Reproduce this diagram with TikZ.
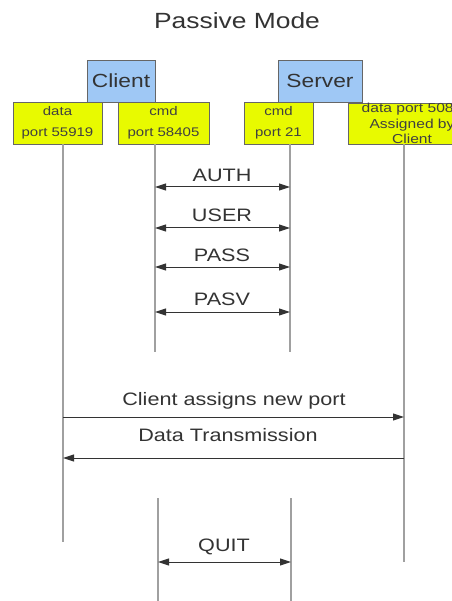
\documentclass[tikz,border=0pt]{standalone}
\usepackage{fontspec}
\setmainfont{Liberation Sans}[FakeStretch=1.2]
\usetikzlibrary{arrows.meta}
\definecolor{boxblue}{HTML}{9FC8F5}
\definecolor{boxyellow}{HTML}{E8FA00}
\definecolor{lifegray}{HTML}{A0A0A0}
\definecolor{inkgray}{HTML}{333333}
\begin{document}
\begin{tikzpicture}[x=1pt,y=-1pt,
  hostbox/.style={draw=black!60,fill=boxblue,line width=0.8pt,inner sep=0pt,
    minimum height=42pt,text=inkgray,font=\fontsize{19}{21}\selectfont},
  portbox/.style={draw=black!60,fill=boxyellow,line width=0.8pt,inner sep=0pt,
    minimum height=42pt,align=center,text=black!75,font=\fontsize{12.5}{21}\selectfont},
  lifeline/.style={draw=lifegray,line width=1.3pt},
  msg/.style={draw=inkgray,line width=1pt,-{Triangle[length=11pt,width=7pt]}},
  dmsg/.style={draw=inkgray,line width=1pt,{Triangle[length=11pt,width=7pt]}-{Triangle[length=11pt,width=7pt]}},
  msglabel/.style={text=inkgray,inner sep=0pt,font=\fontsize{18}{20}\selectfont}]
\useasboundingbox (0,0) rectangle (451,601);

% title
\node[text=inkgray,font=\fontsize{22}{24}\selectfont] (title) at (237,21) {Passive Mode};

% hosts
\node[hostbox,minimum width=68pt] (client) at (121,81) {Client};
\node[hostbox,minimum width=84pt] (server) at (320,81) {Server};

% ports
\node[portbox,minimum width=89pt] (dcli) at (57.5,123) {data\\port 55919};
\node[portbox,minimum width=91pt] (ccli) at (163.5,123) {cmd\\port 58405};
\node[portbox,minimum width=69pt] (csrv) at (278.5,123) {cmd\\port 21};
\node[portbox,minimum width=128pt,minimum height=41pt,font=\fontsize{13}{15.5}\selectfont]
  (dsrv) at (412,123.5) {data port 5082\\Assigned by\\Client};

% lifeline ends
\coordinate (dcliEnd) at (63,542);
\coordinate (ccliEnd) at (155,352);
\coordinate (csrvEnd) at (290,352);
\coordinate (dsrvEnd) at (404,562);
\coordinate (qcliTop) at (158,498);
\coordinate (qcliEnd) at (158,601);
\coordinate (qsrvTop) at (291,498);
\coordinate (qsrvEnd) at (291,601);

\draw[lifeline] (dcli.south -| dcliEnd) -- (dcliEnd);
\draw[lifeline] (ccli.south -| ccliEnd) -- (ccliEnd);
\draw[lifeline] (csrv.south -| csrvEnd) -- (csrvEnd);
\draw[lifeline] (dsrv.south -| dsrvEnd) -- (dsrvEnd);
\draw[lifeline] (qcliTop) -- (qcliEnd);
\draw[lifeline] (qsrvTop) -- (qsrvEnd);

% command channel exchanges
\foreach \lab/\ya/\yl in {AUTH/187/175, USER/228/215, PASS/267/255, PASV/312/299}{
  \coordinate (a\lab) at (155,\ya);
  \coordinate (b\lab) at (290,\ya);
  \draw[dmsg] (a\lab) -- (b\lab);
  \node[msglabel] (l\lab) at (222,\yl) {\lab};
}

% data channel
\coordinate (assignA) at (63,417);
\coordinate (assignB) at (404,417);
\draw[msg] (assignA) -- (assignB);
\node[msglabel] (assignL) at (234,401) {Client assigns new port};

\coordinate (xferA) at (404,458);
\coordinate (xferB) at (63,458);
\draw[msg] (xferA) -- (xferB);
\node[msglabel] (xferL) at (228,435) {Data Transmission};

% quit
\coordinate (quitA) at (158,562);
\coordinate (quitB) at (291,562);
\draw[dmsg] (quitA) -- (quitB);
\node[msglabel] (quitL) at (224,547) {QUIT};
\end{tikzpicture}
\end{document}
